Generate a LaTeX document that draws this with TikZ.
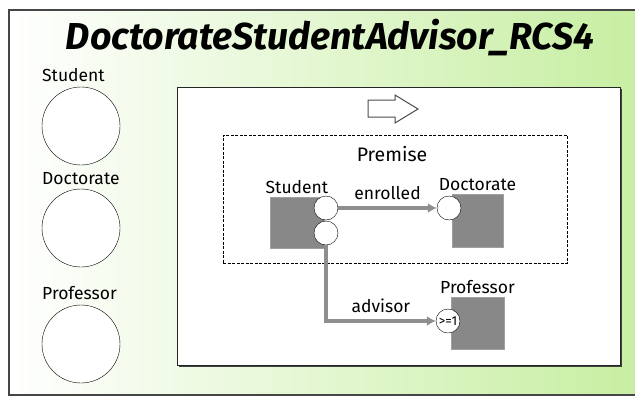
\documentclass[tikz,border=0pt]{standalone}
\usepackage{fontspec}
\setmainfont{Fira Sans}
\usetikzlibrary{positioning,arrows.meta}

\definecolor{bggreen}{RGB}{198,238,160}
\definecolor{framegray}{RGB}{70,70,70}
\definecolor{objgray}{RGB}{136,136,136}
\definecolor{linkgray}{RGB}{142,142,142}

\begin{document}
\begin{tikzpicture}[x=1pt,y=-1pt,font=\fontsize{17.5}{20}\selectfont,
 cls/.style={circle,draw,fill=white,minimum size=78pt,inner sep=0pt},
 obj/.style={rectangle,fill=objgray,draw=objgray!80!white,inner sep=0pt},
 port/.style={circle,draw,fill=white,minimum size=24pt,inner sep=0pt},
 link/.style={draw=linkgray,line width=3.5pt,-{Latex[length=9pt,width=10pt]}}]
 \useasboundingbox (0,0) rectangle (635,397);
 \clip (0,0) rectangle (635,397);
 % background frame
 \shade[left color=white,right color=bggreen] (9,10) rectangle (650,395);
 \draw[framegray,line width=1.6pt] (9,10) rectangle (650,395);
 \node (title) at (330,38) {\fontsize{37.5}{42}\selectfont\bfseries\itshape DoctorateStudentAdvisor\_RCS4};

 % classes
 \node[cls] (c_stu) at (81,126) {};
 \node[cls] (c_doc) at (81,228) {};
 \node[cls] (c_prof) at (81,344) {};
 \node[anchor=base west,inner sep=0pt] at (42,81) {Student};
 \node[anchor=base west,inner sep=0pt] at (42,184) {Doctorate};
 \node[anchor=base west,inner sep=0pt] at (42,299) {Professor};

 % rule
 \fill[black!75] (179,89) rectangle (622,367);
 \draw[fill=white,draw=black!85,line width=1pt] (177,87) rectangle (620,365);
 \draw[black!70,line width=1pt] (368,100) -- (395,100) -- (395,95) -- (418,109)
   -- (395,123) -- (395,117) -- (368,117) -- cycle;
 \node[draw,dash pattern=on 3pt off 1.5pt,line width=1pt,minimum width=344pt,minimum height=128pt] (premise) at (395,199) {};
 \node at (392,154) {\fontsize{19.5}{22}\selectfont Premise};

 \node[obj,minimum width=54pt,minimum height=51pt] (stu) at (297,222.5) {};
 \node[obj,minimum width=51pt,minimum height=53pt] (doc) at (477.5,220.5) {};
 \node[obj,minimum width=53pt,minimum height=52pt] (prof) at (477.5,323) {};
 \node[above=0pt of stu] {Student};
 \node[above=0pt of doc] {Doctorate};
 \node[above=0pt of prof] {Professor};

 \node[port] (stu_e) at (326,208) {};
 \node[port] (stu_a) at (326,233) {};
 \node[port] (doc_e) at (449,208) {};
 \node[port] (prof_a) at (448,321) {};
 \node at (prof_a) {\fontsize{13}{14}\selectfont >=1};

 \draw[link] (stu_e) -- node[above=3pt] {enrolled} (doc_e);
 \draw[link] (stu_a) |- node[pos=0.75,above=3pt] {advisor} (prof_a);
\end{tikzpicture}
\end{document}
